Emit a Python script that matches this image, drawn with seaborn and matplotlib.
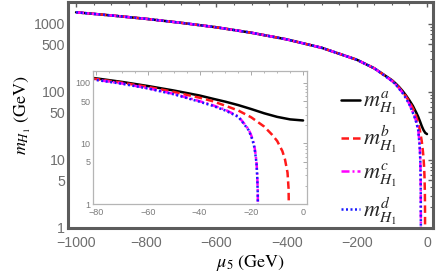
import numpy as np
import pandas as pd
import matplotlib
matplotlib.use("Agg")
import matplotlib.pyplot as plt
from matplotlib.ticker import FixedLocator, FixedFormatter, MultipleLocator, NullFormatter
import seaborn as sns

sns.set_theme(style="white")
plt.rcParams["font.family"] = ["Liberation Sans", "DejaVu Sans"]
plt.rcParams["mathtext.fontset"] = "stix"

# values (GeV)
mu_far = [-1000, -900, -800, -700, -600, -500, -400, -300, -200, -150]
m_far = [1480, 1330, 1185, 1035, 890, 740, 592, 445, 297, 222]

mu_a = [-100, -90, -80, -70, -60, -50, -40, -35, -30, -25, -20, -15, -10, -5, 0]
m_a = [149, 134, 119, 104, 89, 75, 62, 55, 49, 43, 37, 31.5, 27.5, 25, 24]

mu_b = [-100, -90, -80, -70, -60, -50, -40, -35, -30, -25, -20, -15, -12, -10, -8, -7, -6, -5.6, -5.4]
m_b = [147, 132, 116, 101, 86, 71, 57, 50, 42, 35, 27, 19, 14, 11, 7.5, 5.5, 3.3, 1.8, 0.5]

mu_c = [-100, -90, -80, -70, -60, -50, -40, -35, -30, -25, -23, -21, -20, -19, -18.5, -18, -17.7, -17.5, -17.4]
m_c = [145, 130, 113, 98, 82, 66, 50, 43, 36, 28, 22, 17, 13.5, 10, 7.5, 5, 3, 1.6, 0.5]

mu_d = mu_c
m_d = [145, 130, 112, 97, 81, 65, 49, 42, 35, 27.5, 21.5, 16.5, 13, 9.5, 7, 4.8, 2.8, 1.5, 0.5]

labels = [r"$m^{a}_{H_1}$", r"$m^{b}_{H_1}$", r"$m^{c}_{H_1}$", r"$m^{d}_{H_1}$"]
colors = ["black", "#ff1a1a", "#ff00ff", "#1a1aff"]
styles = ["-", (0, (3.0, 1.6)), (0, (3.2, 1.2, 0.8, 1.2)), (0, (0.8, 1.0))]

curves = []
for mu, m in [(mu_a, m_a), (mu_b, m_b), (mu_c, m_c), (mu_d, m_d)]:
    curves.append(pd.DataFrame({"mu": mu_far + mu, "m": m_far + m}))

frame = "#5c5c5c"
tickcol = "#6e6e6e"

fig = plt.figure(figsize=(4.36, 2.78), dpi=100)
ax = fig.add_axes([0.156, 0.180, 0.837, 0.813])

for df, c, ls, lab in zip(curves, colors, styles, labels):
    sns.lineplot(data=df, x="mu", y="m", ax=ax, color=c, linestyle=ls, lw=1.8,
                 estimator=None, sort=False, label=lab)

ax.set_yscale("log")
ax.set_xlim(-1023, 17)
ax.set_ylim(1, 2100)
ax.xaxis.set_major_locator(MultipleLocator(200))
ax.xaxis.set_minor_locator(MultipleLocator(50))
ax.yaxis.set_major_locator(FixedLocator([1, 5, 10, 50, 100, 500, 1000]))
ax.yaxis.set_major_formatter(FixedFormatter(["1", "5", "10", "50", "100", "500", "1000"]))
minor = [k * 10 ** e for e in range(0, 4) for k in [2, 3, 4, 6, 7, 8, 9]]
ax.yaxis.set_minor_locator(FixedLocator(minor))
ax.yaxis.set_minor_formatter(NullFormatter())
ax.tick_params(which="both", direction="in", top=True, right=True, color=frame,
               labelcolor=tickcol, labelsize=10.2)
ax.tick_params(axis="x", pad=6)
ax.tick_params(axis="y", pad=2)
ax.tick_params(which="major", length=3.5, width=1.0)
ax.tick_params(which="minor", length=2, width=0.8)
for s in ax.spines.values():
    s.set_color(frame)
    s.set_linewidth(2.2)

ax.set_xlabel(r"$\mu_5\ (\mathrm{GeV})$", fontsize=13, color="black", labelpad=2)
ax.set_ylabel(r"$m_{H_1}\ (\mathrm{GeV})$", fontsize=13, color="black", labelpad=1)

leg = ax.legend(loc="upper left", bbox_to_anchor=(0.757, 0.715), bbox_transform=fig.transFigure,
                frameon=False, fontsize=16, handlelength=0.85, handletextpad=0.15,
                labelspacing=0.3, borderpad=0)

# inset
ins = fig.add_axes([0.213, 0.266, 0.491, 0.479])
ins.set_facecolor("white")
for df, c, ls in zip(curves, colors, styles):
    sub = df[df["mu"] >= -90]
    sns.lineplot(data=sub, x="mu", y="m", ax=ins, color=c, linestyle=ls, lw=1.8,
                 estimator=None, sort=False)
ins.set_yscale("log")
ins.set_xlim(-81.2, 1.5)
ins.set_ylim(1, 158)
ins.xaxis.set_major_locator(MultipleLocator(20))
ins.xaxis.set_minor_locator(MultipleLocator(5))
ins.yaxis.set_major_locator(FixedLocator([1, 5, 10, 50, 100]))
ins.yaxis.set_major_formatter(FixedFormatter(["1", "5", "10", "50", "100"]))
ins.yaxis.set_minor_locator(FixedLocator([k * 10 ** e for e in range(0, 3) for k in [2, 3, 4, 6, 7, 8, 9]]))
ins.yaxis.set_minor_formatter(NullFormatter())
ins.tick_params(which="both", direction="in", top=True, right=True, color="#9a9a9a",
                labelcolor="#7a7a7a", labelsize=6.5)
ins.tick_params(axis="x", pad=3)
ins.tick_params(axis="y", pad=1.5)
ins.tick_params(which="major", length=3, width=0.6)
ins.tick_params(which="minor", length=1.5, width=0.5)
for s in ins.spines.values():
    s.set_color("#b5b5b5")
    s.set_linewidth(0.9)
ins.set_xlabel("")
ins.set_ylabel("")
if ins.get_legend():
    ins.get_legend().remove()

fig.savefig("out.png", dpi=100)
